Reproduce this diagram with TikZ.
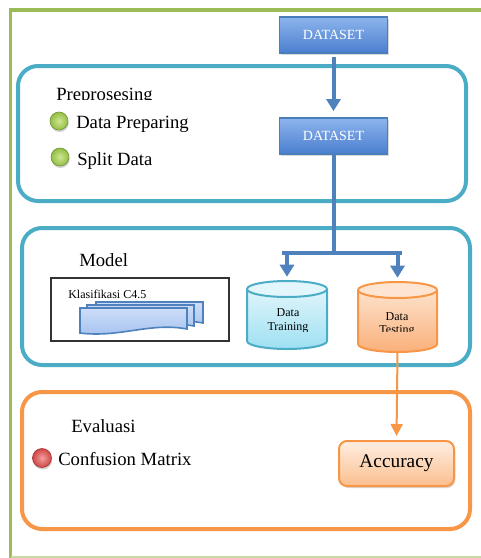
\documentclass[tikz,border=0pt]{standalone}
\usepackage{fontspec}
\setmainfont{Liberation Serif}
\usetikzlibrary{arrows.meta,shadows}

\definecolor{framegreen}{HTML}{9BBB59}
\definecolor{boxteal}{HTML}{4BACC6}
\definecolor{boxorange}{HTML}{F79646}
\definecolor{flowblue}{HTML}{4F81BD}
\definecolor{dstop}{HTML}{8DB4EC}
\definecolor{dsbot}{HTML}{4A7ECF}
\definecolor{dsedge}{HTML}{4A7EBB}
\definecolor{acctop}{HTML}{FEEEE2}
\definecolor{accbot}{HTML}{FBBF8E}
\definecolor{traintop}{HTML}{E0F5FB}
\definecolor{trainbot}{HTML}{9EE0F2}
\definecolor{trainlid}{HTML}{E3F6FB}
\definecolor{testtop}{HTML}{FDE2CC}
\definecolor{testbot}{HTML}{FAB07A}
\definecolor{testlid}{HTML}{FDE5D2}
\definecolor{doctop}{HTML}{CCDDF8}
\definecolor{docbot}{HTML}{A4C1F0}
\definecolor{greenin}{HTML}{CDE792}
\definecolor{greenout}{HTML}{93BD45}
\definecolor{redin}{HTML}{F3A09E}
\definecolor{redout}{HTML}{CF4744}

% cylinder: cx, lid y, base y, x radius, y radius, body top, body bottom, lid fill, edge
\newcommand\drawcyl[9]{%
  \shade[top color=#6, bottom color=#7] (#1-#4,#2) -- (#1-#4,#3)
    arc[start angle=180, end angle=0, x radius=#4, y radius=#5] -- (#1+#4,#2) -- cycle;
  \draw[draw=#9, line width=1.5pt] (#1-#4,#2) -- (#1-#4,#3)
    arc[start angle=180, end angle=0, x radius=#4, y radius=#5] -- (#1+#4,#2);
  \filldraw[fill=#8, draw=#9, line width=1.5pt] (#1,#2) ellipse[x radius=#4, y radius=#5];
}
% document sheet with a wavy lower edge: left x, top y
\newcommand\docsheet[2]{%
  \draw[draw=flowblue, line width=1.2pt, top color=doctop, bottom color=docbot]
    (#1,#2) -- (#1+107,#2) -- (#1+107,#2+21)
    .. controls (#1+70,#2+14) and (#1+40,#2+30) .. (#1,#2+25) -- cycle;
}

\begin{document}
\begin{tikzpicture}[x=0.75pt, y=-0.75pt,
  container/.style={line width=3pt, rounded corners=15pt},
  dsbox/.style={draw=dsedge, line width=1.3pt, top color=dstop, bottom color=dsbot,
    minimum width=108*0.75pt, minimum height=36*0.75pt, inner sep=0pt, text=white,
    font=\fontsize{10.5}{12}\selectfont,
    drop shadow={opacity=0.3, shadow xshift=1pt, shadow yshift=-1.5pt}},
  accbox/.style={draw=boxorange, line width=1.5pt, rounded corners=6pt,
    top color=acctop, bottom color=accbot,
    minimum width=115*0.75pt, minimum height=45*0.75pt, inner sep=0pt,
    font=\fontsize{14.5}{16}\selectfont,
    drop shadow={opacity=0.3, shadow xshift=1pt, shadow yshift=-1.5pt}},
  label/.style={anchor=base west, inner sep=0pt, font=\fontsize{14}{16}\selectfont},
  cyltext/.style={anchor=base, inner sep=0pt, font=\fontsize{9}{11}\selectfont},
  greenbullet/.style={circle, minimum size=18*0.75pt, inner sep=0pt,
    inner color=greenin, outer color=greenout, draw=greenout!80!black, line width=0.5pt,
    drop shadow={opacity=0.35, shadow xshift=0.5pt, shadow yshift=-1.5pt}},
  redbullet/.style={circle, minimum size=19*0.75pt, inner sep=0pt,
    inner color=redin, outer color=redout, draw=redout!80!black, line width=0.5pt,
    drop shadow={opacity=0.35, shadow xshift=0.5pt, shadow yshift=-1.5pt}},
  blueflow/.style={draw=flowblue, line width=3pt},
  bluearrow/.style={blueflow, -{Triangle[width=10.5pt, length=9pt]}},
  orangearrow/.style={draw=boxorange, line width=1.5pt, -{Triangle[width=9pt, length=9pt]}}
]
\useasboundingbox (0,0) rectangle (481,558);

% outer frame
\draw[draw=framegreen, line width=2.6pt] (490,10) -- (10.7,10) -- (10.7,560);
\draw[draw=framegreen!55, line width=1.5pt] (10.7,556.5) -- (490,556.5);

% stage containers
\draw[container, draw=boxteal] (18,66) rectangle (466,201);
\draw[container, draw=boxteal] (22,228) rectangle (470,365);
\draw[container, draw=boxorange] (22,392) rectangle (470,529);

% preprocessing stage
\node[dsbox] (ds1) at (333.5,35) {DATASET};
\node[dsbox] (ds2) at (333.5,136) {DATASET};
\begin{scope}
  \clip (40,80) rectangle (200,99.8);
  \node[label] (pretitle) at (56,100.3) {Preprosesing};
\end{scope}
\node[greenbullet] (b1) at (59,121) {};
\node[label] (prep) at (76,128.3) {Data Preparing};
\node[greenbullet] (b2) at (60,157) {};
\node[label] (split) at (77,165) {Split Data};

% model stage
\node[label] (modeltitle) at (79,266) {Model};
\node[draw=black!80, line width=0.8pt, minimum width=178*0.75pt, minimum height=63*0.75pt,
  inner sep=0pt] (klas) at (140,309.5) {};
\node[anchor=base west, inner sep=0pt, font=\fontsize{9}{11}\selectfont] (klastext)
  at (68,298) {Klasifikasi C4.5};
\docsheet{96}{302}
\docsheet{87}{305}
\docsheet{80}{308}

\drawcyl{287}{289}{341}{40}{8}{traintop}{trainbot}{trainlid}{boxteal}
\drawcyl{397.5}{290}{344}{39.5}{8}{testtop}{testbot}{testlid}{boxorange}
\node[minimum width=80*0.75pt, minimum height=68*0.75pt, inner sep=0pt] (train) at (287,315) {};
\node[minimum width=79*0.75pt, minimum height=70*0.75pt, inner sep=0pt] (test) at (397.5,317) {};
\begin{scope}
  \clip (245,300) rectangle (330,331);
  \node[cyltext] (trainA) at (288,316) {Data};
  \node[cyltext] (trainB) at (288,330.7) {Training};
\end{scope}
\begin{scope}
  \clip (355,300) rectangle (440,331.7);
  \node[cyltext] (testA) at (397,320) {Data};
  \node[cyltext] (testB) at (397,333.5) {Testing};
\end{scope}

% evaluation stage
\node[label] (evaltitle) at (71,432) {Evaluasi};
\node[redbullet] (b3) at (42,458) {};
\node[label] (conf) at (58,465) {Confusion Matrix};
\node[accbox] (acc) at (396.5,463.5) {Accuracy};

% flow
\coordinate (fork) at (333.5,253);
\coordinate (barL) at (282,253);
\coordinate (barR) at (402,253);
\draw[bluearrow, shorten <=2pt, shorten >=4.5pt] (ds1.south) -- (ds2.north);
\draw[blueflow] (ds2.south) -- (fork);
\draw[blueflow] (barL) -- (barR);
\draw[bluearrow, shorten >=3pt] (train.north |- fork) -- (train.north);
\draw[bluearrow, shorten >=3pt] (test.north |- fork) -- (test.north);
\draw[orangearrow, shorten >=3pt] (test.south) -- (acc.north);
\end{tikzpicture}
\end{document}
